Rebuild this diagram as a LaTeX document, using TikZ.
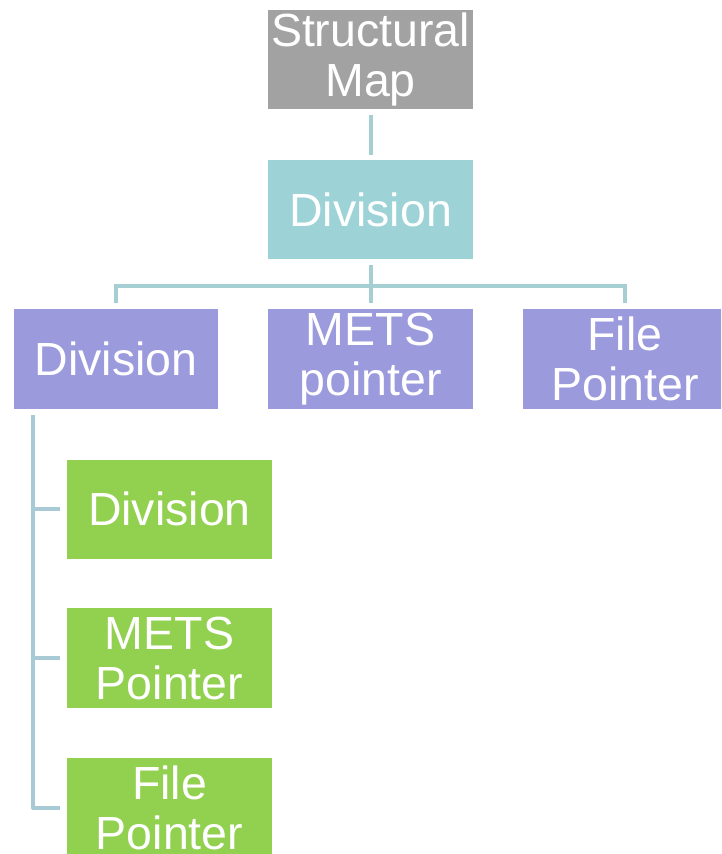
\documentclass[tikz,border=0pt]{standalone}
\usepackage{fontspec}
\setmainfont{Liberation Sans}
\definecolor{mapgray}{HTML}{A2A2A2}
\definecolor{divteal}{HTML}{9DD3D6}
\definecolor{lvlpurple}{HTML}{9B9ADD}
\definecolor{leafgreen}{HTML}{92D050}
\definecolor{linkteal}{HTML}{A5CFD3}
\definecolor{linkblue}{HTML}{A8CAD4}
\begin{document}
\begin{tikzpicture}[x=1pt,y=-1pt,
  box/.style={rectangle, inner sep=0pt, minimum width=205pt, minimum height=99pt,
    text=white, align=center, font=\fontsize{46.5}{50}\selectfont},
  link/.style={draw=linkteal, line width=4pt},
  sidelink/.style={draw=linkblue, line width=4pt}]
\useasboundingbox (0,0) rectangle (721,854);
\begin{scope}
\clip (0,0) rectangle (721,854);
% top of the hierarchy
\node[box, fill=mapgray] (map) at (370.5,59.5) {Structural\\Map};
\node[box, fill=divteal] (root) at (370.5,209.5) {Division};
% second level
\node[box, fill=lvlpurple, minimum width=204pt, minimum height=100pt] (div) at (116,359) {Division};
\node[box, fill=lvlpurple, minimum height=100pt] (mets) at (370.5,359) {METS\\pointer};
\node[box, fill=lvlpurple, minimum width=204pt, minimum height=100pt] (file) at (625,359) {File\\Pointer};
% children of the left division
\node[box, fill=leafgreen] (cdiv) at (169.5,509) {Division};
\node[box, fill=leafgreen, minimum height=100pt] (cmets) at (169.5,658) {METS\\Pointer};
\node[box, fill=leafgreen, minimum height=100pt] (cfile) at (169.5,808) {File\\Pointer};
% connectors
\draw[link, shorten <=6pt, shorten >=5pt] (map.south) -- (root.north);
\coordinate (bar) at (370.5,286);
\draw[link, shorten <=6pt] (root.south) -- (bar);
\draw[link, shorten >=6pt] (bar) -| (div.north);
\draw[link, shorten >=6pt] (bar) -- (mets.north);
\draw[link, shorten >=6pt] (bar) -| (file.north);
\coordinate (trunk) at (33,415);
\draw[sidelink, line join=round] (trunk) |- ([xshift=-7pt]cfile.west);
\draw[sidelink] (33,509) -- ([xshift=-7pt]cdiv.west);
\draw[sidelink] (33,658) -- ([xshift=-7pt]cmets.west);
\end{scope}
\end{tikzpicture}
\end{document}
